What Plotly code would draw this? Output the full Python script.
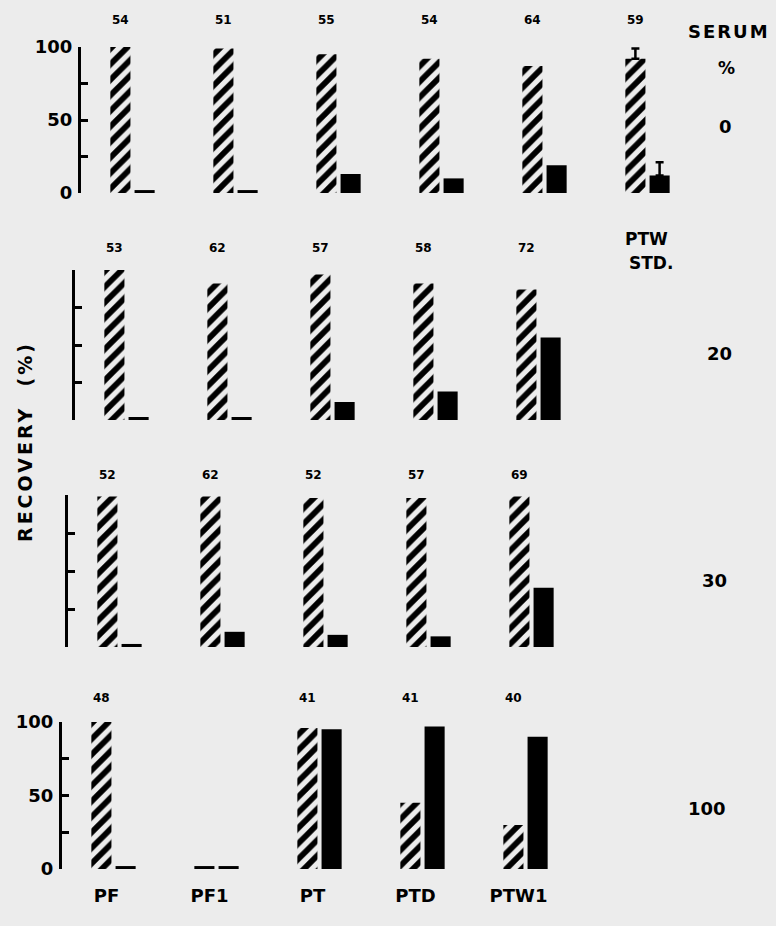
import plotly.graph_objects as go

# ---------------- data ----------------
categories = ["PF", "PF1", "PT", "PTD", "PTW1", "STD"]
bottom_labels = ["PF", "PF1", "PT", "PTD", "PTW1"]
serum_levels = ["0", "20", "30", "100"]

# hatched bars (first of each pair) and solid bars (second of each pair)
hatched_0 = [100, 99, 95, 92, 87, 92]
solid_0 = [2, 2, 13, 10, 19, 12]
n_0 = ["54", "51", "55", "54", "64", "59"]
std_err_hatched = 7
std_err_solid = 9

hatched_20 = [100, 91, 97, 91, 87]
solid_20 = [2, 2, 12, 19, 55]
n_20 = ["53", "62", "57", "58", "72"]

hatched_30 = [99, 99, 98, 98, 99]
solid_30 = [2, 10, 8, 7, 39]
n_30 = ["52", "62", "52", "57", "69"]

hatched_100 = [100, 2, 96, 45, 30]
solid_100 = [2, 2, 95, 97, 90]
n_100 = ["48", "", "41", "41", "40"]

tick_vals = [0, 25, 50, 75, 100]
tick_text = ["0", "", "50", "", "100"]

# ---------------- style ----------------
W, H = 776, 926
BG = "#ececec"
FONT = "DejaVu Sans"
PATTERN = dict(shape="/", fgcolor="black", bgcolor=BG, size=11,
               solidity=0.52, fillmode="replace")
DASH_LIMIT = 5  # values this small are drawn as a plain black dash

panels = [
    dict(h=hatched_0, s=solid_0, n=n_0, x=(81, 699), y=(47, 193), lab=True, nshift=27),
    dict(h=hatched_20, s=solid_20, n=n_20, x=(75, 693), y=(270, 420), lab=False, nshift=22),
    dict(h=hatched_30, s=solid_30, n=n_30, x=(68, 686), y=(495, 647), lab=False, nshift=20),
    dict(h=hatched_100, s=solid_100, n=n_100, x=(62, 680), y=(722, 869), lab=True, nshift=24),
]

fig = go.Figure()
annotations = []
layout = {}

for i, p in enumerate(panels, start=1):
    xa = "x" if i == 1 else f"x{i}"
    ya = "y" if i == 1 else f"y{i}"
    n_main = min(len(p["h"]), 5)
    cats = categories[:n_main]
    h_main = p["h"][:n_main]
    s_main = p["s"][:n_main]

    h_pat = [v if v > DASH_LIMIT else None for v in h_main]
    h_dash = [v if v <= DASH_LIMIT else None for v in h_main]

    fig.add_trace(go.Bar(
        x=cats, y=h_pat, xaxis=xa, yaxis=ya, offsetgroup="h", showlegend=False,
        marker=dict(color=BG, line=dict(width=0), pattern=PATTERN)))
    if any(v is not None for v in h_dash):
        fig.add_trace(go.Bar(
            x=cats, y=h_dash, xaxis=xa, yaxis=ya, offsetgroup="h", showlegend=False,
            marker=dict(color="black", line=dict(width=0))))
    fig.add_trace(go.Bar(
        x=cats, y=s_main, xaxis=xa, yaxis=ya, offsetgroup="s", showlegend=False,
        marker=dict(color="black", line=dict(width=0))))

    if len(p["h"]) > 5:  # PTW standard with error bars
        fig.add_trace(go.Bar(
            x=categories[5:], y=p["h"][5:], xaxis=xa, yaxis=ya, offsetgroup="h",
            showlegend=False,
            marker=dict(color=BG, line=dict(width=0), pattern=PATTERN),
            error_y=dict(type="data", array=[std_err_hatched], symmetric=False,
                         arrayminus=[0], color="black", thickness=2.5, width=4)))
        fig.add_trace(go.Bar(
            x=categories[5:], y=p["s"][5:], xaxis=xa, yaxis=ya, offsetgroup="s",
            showlegend=False, marker=dict(color="black", line=dict(width=0)),
            error_y=dict(type="data", array=[std_err_solid], symmetric=False,
                         arrayminus=[0], color="black", thickness=2.5, width=4)))

    xkey = "xaxis" if i == 1 else f"xaxis{i}"
    ykey = "yaxis" if i == 1 else f"yaxis{i}"
    layout[xkey] = dict(
        domain=[p["x"][0] / W, p["x"][1] / W], anchor=ya, automargin=False,
        type="category", categoryorder="array", categoryarray=categories,
        range=[-0.5, 5.5], showline=False, showgrid=False, zeroline=False,
        ticks="", showticklabels=(i == 4),
        tickmode="array", tickvals=bottom_labels, ticktext=bottom_labels,
        tickfont=dict(family=FONT, size=18, color="black", weight="bold"),
        ticklabelstandoff=14, ticklabelshift=-7, fixedrange=True,
    )
    layout[ykey] = dict(
        domain=[1 - p["y"][1] / H, 1 - p["y"][0] / H], anchor=xa, automargin=False,
        range=[0, 100], showline=True, linecolor="black", linewidth=3,
        showgrid=False, zeroline=False, ticks="inside", ticklen=7,
        tickwidth=2.5, tickcolor="black", tickmode="array", tickvals=tick_vals,
        ticktext=tick_text if p["lab"] else [""] * 5, showticklabels=p["lab"],
        tickfont=dict(family=FONT, size=18, color="black", weight="bold"),
        ticklabelstandoff=2, fixedrange=True,
    )
    for c, t in zip(categories, p["n"]):
        if t:
            annotations.append(dict(
                x=c, xref=xa, y=1, yref=f"{ya} domain", text=t, showarrow=False,
                xshift=-12, yshift=p["nshift"], yanchor="middle",
                font=dict(family=FONT, size=12, color="black", weight="bold")))


def pa(x, y, text, size=18, angle=0):
    annotations.append(dict(
        x=x / W, y=1 - y / H, xref="paper", yref="paper", text=text,
        showarrow=False, textangle=angle, xanchor="center", yanchor="middle",
        font=dict(family=FONT, size=size, color="black", weight="bold")))


pa(729, 31, '<span style="letter-spacing:2px">SERUM</span>', 18)
pa(726, 68, "%", 17)
pa(725, 126, serum_levels[0], 18)
pa(719, 353, serum_levels[1], 18)
pa(714, 580, serum_levels[2], 18)
pa(707, 808, serum_levels[3], 18)
pa(646, 239, "PTW", 17)
pa(651, 263, "STD.", 17)
pa(25, 442, '<span style="letter-spacing:3px">RECOVERY  (%)</span>', 19, angle=-90)

fig.update_layout(
    width=W, height=H, autosize=False,
    margin=dict(l=0, r=0, t=0, b=0, pad=0),
    paper_bgcolor=BG, plot_bgcolor=BG,
    barmode="group", bargap=0.53, bargroupgap=0.17,
    annotations=annotations, showlegend=False,
    **layout,
)

fig.write_html("out.html")
